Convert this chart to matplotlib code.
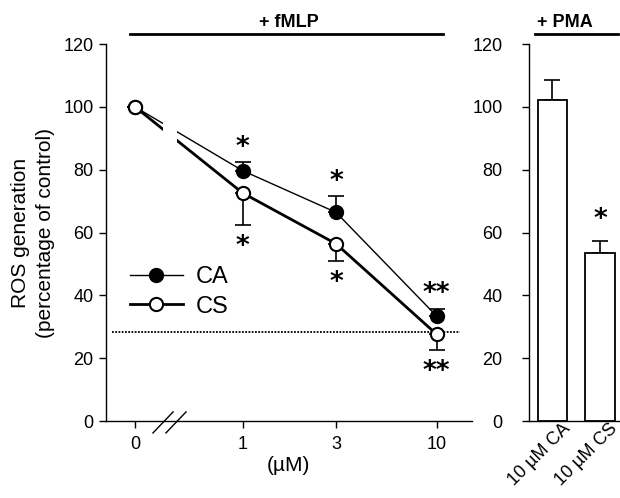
import numpy as np
import matplotlib
matplotlib.use('Agg')
import matplotlib.pyplot as plt
import matplotlib.transforms as mtransforms
from matplotlib.lines import Line2D

plt.rcParams['font.family'] = ['Liberation Sans', 'DejaVu Sans']

# dades llegides de la figura
conc_labels = ['0', '1', '3', '10']
ca_mean = [100, 79.7, 66.4, 33.4]
ca_err_up = [0, 2.7, 5.1, 2.4]
cs_mean = [100, 72.6, 56.4, 27.6]
cs_err_down = [0, 10.2, 5.6, 5.1]
ca_stars = ['', '*', '*', '**']
cs_stars = ['', '*', '*', '**']
baseline_level = 28.3

pma_labels = ['10 µM CA', '10 µM CS']
pma_mean = [102.1, 53.6]
pma_err = [6.6, 3.8]
pma_stars = ['', '*']

# posicions de l'eix x (no equiespaiades a l'original)
xpos = np.array([0, 1.07, 2.0, 3.0])

STAR_KW = dict(ha='center', va='center', fontsize=19, family='DejaVu Sans',
               fontweight='bold')

fig = plt.figure(figsize=(6.2, 4.98), dpi=100)
ax = fig.add_axes([0.171, 0.1546, 0.590, 0.757])
ax2 = fig.add_axes([0.853, 0.1546, 0.147, 0.757])

# panell esquerre: fMLP
ax.plot(xpos, ca_mean, color='black', lw=1.0, zorder=2)
ax.plot(xpos, cs_mean, color='black', lw=2.0, zorder=2)
# tall a l'eix (tapo el tros de linia)
ax.fill_betweenx([80, 100], 0.278, 0.417, color='white', lw=0, zorder=2.2)
for x0 in [0.179, 0.308]:
    ax.plot([x0, x0 + 0.2], [-3.8, 2.9], color='black', lw=1.0,
            clip_on=False, zorder=5)

ax.errorbar(xpos, ca_mean, yerr=[np.zeros(4), ca_err_up], fmt='none',
            ecolor='black', elinewidth=1.2, capsize=6, capthick=1.2, zorder=2.4)
ax.errorbar(xpos, cs_mean, yerr=[cs_err_down, np.zeros(4)], fmt='none',
            ecolor='black', elinewidth=1.2, capsize=6, capthick=1.2, zorder=2.4)
ax.plot(xpos, ca_mean, 'o', ms=9.5, mfc='black', mec='black', mew=1.5, zorder=3)
ax.plot(xpos, cs_mean, 'o', ms=9.5, mfc='white', mec='black', mew=1.5, zorder=3.1)

ax.hlines(baseline_level, -0.23, 3.23, colors='black', lw=1.3,
          linestyles=(0, (1, 0.8)), zorder=1)

for i in range(len(xpos)):
    if ca_stars[i]:
        ax.text(xpos[i], ca_mean[i] + ca_err_up[i] + 4.5, ca_stars[i], **STAR_KW)
    if cs_stars[i]:
        ax.text(xpos[i], cs_mean[i] - cs_err_down[i] - 7.0, cs_stars[i], **STAR_KW)

ax.set_xlim(-0.288, 3.35)
ax.set_ylim(0, 120)
ax.set_xticks(xpos)
ax.set_xticklabels(conc_labels)
ax.set_yticks(range(0, 121, 20))
ax.tick_params(axis='both', labelsize=13, length=5, width=1.0, direction='out')
ax.tick_params(axis='y', pad=4)
ax.tick_params(axis='x', pad=6)
for s in ['top', 'right']:
    ax.spines[s].set_visible(False)
for s in ['left', 'bottom']:
    ax.spines[s].set_linewidth(1.0)
ax.set_xlabel('(µM)', fontsize=15, labelpad=2)

handles = [
    Line2D([], [], color='black', lw=1.0, marker='o', ms=9.5, mfc='black',
           mec='black', mew=1.5),
    Line2D([], [], color='black', lw=2.0, marker='o', ms=9.5, mfc='white',
           mec='black', mew=1.5),
]
ax.legend(handles, ['CA', 'CS'], loc='upper left', bbox_to_anchor=(0.065, 0.41),
          frameon=False, fontsize=17, handlelength=2.25, handletextpad=0.55,
          labelspacing=0.3, borderpad=0, borderaxespad=0)

# barra superior + fMLP
ax.plot([-0.05, 3.06], [123.3, 123.3], color='black', lw=2.0, clip_on=False)
ax.text(1.53, 124.0, '+ fMLP', ha='center', va='bottom', fontsize=13,
        fontweight='bold')

fig.text(33 / 620, 1 - 233 / 498, 'ROS generation\n(percentage of control)',
         rotation=90, ha='center', va='center', fontsize=15, linespacing=1.4)

# panell dret: PMA
bx = np.arange(len(pma_mean))
ax2.bar(bx, pma_mean, width=0.61, color='white', edgecolor='black', lw=1.3,
        zorder=2)
ax2.errorbar(bx, pma_mean, yerr=[np.zeros(2), pma_err], fmt='none',
             ecolor='black', elinewidth=1.2, capsize=6, capthick=1.2, zorder=1.5)
for i in range(len(bx)):
    if pma_stars[i]:
        ax2.text(bx[i], pma_mean[i] + pma_err[i] + 6.5, pma_stars[i], **STAR_KW)
ax2.set_xlim(-0.495, 1.42)
ax2.set_ylim(0, 120)
ax2.set_yticks(range(0, 121, 20))
ax2.set_xticks(bx)
ax2.set_xticklabels(pma_labels, rotation=45, ha='right',
                    rotation_mode='anchor')
ax2.tick_params(axis='y', labelsize=13, length=5, width=1.0, pad=14)
ax2.tick_params(axis='x', labelsize=13, length=0, pad=1)
shift = mtransforms.ScaledTranslation(9 / 100, 2 / 100, fig.dpi_scale_trans)
for lbl in ax2.get_xticklabels():
    lbl.set_transform(lbl.get_transform() + shift)
for s in ['top', 'right']:
    ax2.spines[s].set_visible(False)
for s in ['left', 'bottom']:
    ax2.spines[s].set_linewidth(1.0)

ax2.plot([-0.37, 1.38], [123.3, 123.3], color='black', lw=2.0, clip_on=False)
ax2.text(0.26, 124.0, '+ PMA', ha='center', va='bottom', fontsize=13,
         fontweight='bold')

fig.savefig('out.png', dpi=100)
